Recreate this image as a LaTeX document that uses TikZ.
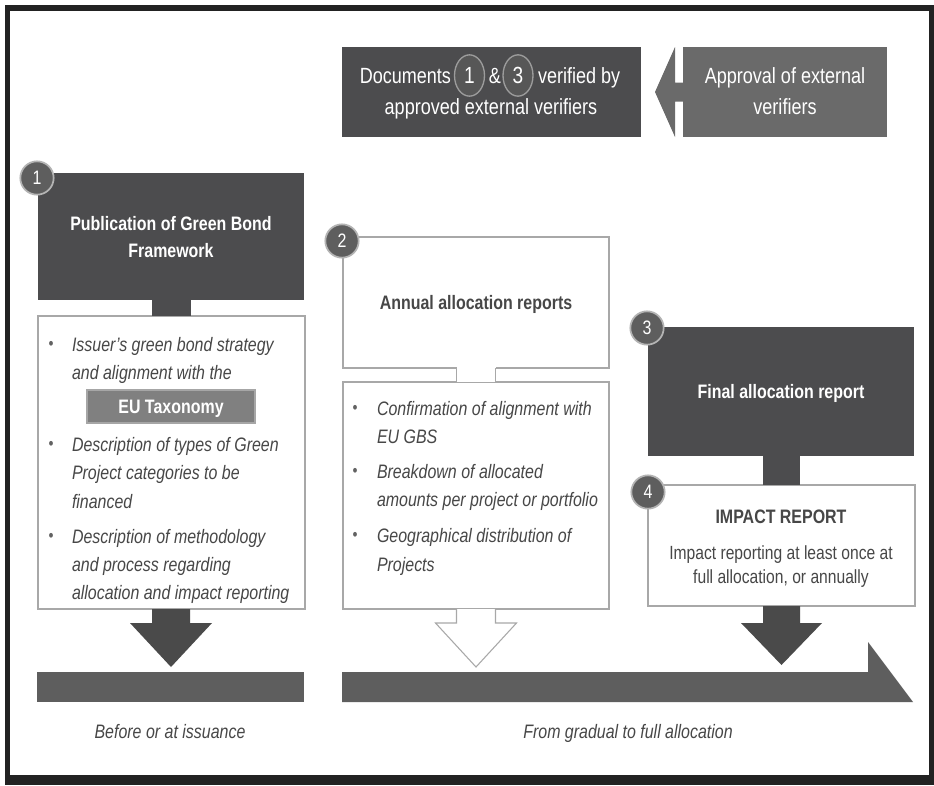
\documentclass[tikz,border=0pt]{standalone}
\usepackage{fontspec}
\setmainfont{Liberation Sans}[FakeStretch=0.82]
\usetikzlibrary{calc,fit,shapes.geometric}
\definecolor{framec}{HTML}{222222}
\definecolor{dk}{HTML}{4C4C4E}
\definecolor{apc}{HTML}{6A6A6A}
\definecolor{barc}{HTML}{5E5E5E}
\definecolor{arc}{HTML}{4A4A4A}
\definecolor{bord}{HTML}{A8A8A8}
\definecolor{txt}{HTML}{474747}
\definecolor{bulc}{HTML}{626262}
\definecolor{numf}{HTML}{5E5E5E}
\definecolor{numr}{HTML}{B4B4B4}
\definecolor{onumf}{HTML}{575757}
\definecolor{onumr}{HTML}{9C9C9C}
\definecolor{eub}{HTML}{808080}
\definecolor{eur}{HTML}{A6A6A6}
\begin{document}
\begin{tikzpicture}[x=0.75pt,y=-0.75pt,
  every node/.style={inner sep=0pt, outer sep=0pt},
  wbox/.style={fill=white, draw=bord, line width=0.8pt},
  num/.style={circle, fill=numf, draw=numr, line width=1.3pt, minimum size=25pt, text=white, font=\fontsize{14.6}{16}\selectfont},
  onum/.style={ellipse, fill=onumf, draw=onumr, line width=1pt, minimum width=22.5pt, minimum height=31pt, text=white, font=\fontsize{17.5}{19}\selectfont},
  ln/.style={text height=10.5pt, text depth=3.1pt, yshift=-1.2pt},
  ttl/.style={ln, text=white, font=\bfseries\fontsize{14.6}{17}\selectfont},
  gttl/.style={ln, text=txt, font=\bfseries\fontsize{14.6}{17}\selectfont},
  wt/.style={text=white, font=\fontsize{16.5}{18}\selectfont, text height=11.8pt, text depth=3.5pt, yshift=-1pt},
  it/.style={ln, anchor=west, text=txt, font=\itshape\fontsize{14.6}{17}\selectfont},
  bul/.style={text=bulc, font=\fontsize{13}{14}\selectfont},
  imt/.style={ln, text=txt, font=\fontsize{14.3}{17}\selectfont},
  lbl/.style={ln, text=txt, font=\itshape\fontsize{14.6}{17}\selectfont}
]
\useasboundingbox (0,0) rectangle (934,785);
\fill[framec] (5,5) rectangle (934,785);
\fill[white] (10,11) rectangle (929,775);

% ---------- top row ----------
\node[fit={(342,47) (641,137)}, fill=dk] (docs) {};
\node[fit={(683,47) (887,137)}, fill=apc] (appr) {};
\fill[apc] ($(appr.west)+(0,-9.5)$) -- ($(appr.west)+(-8,-9.5)$) -- ($(appr.west)+(-8,-45)$)
  -- ($(docs.east)+(14,0)$) -- ($(appr.west)+(-8,45)$) -- ($(appr.west)+(-8,9.5)$)
  -- ($(appr.west)+(0,9.5)$) -- cycle;
\node[wt] (ap1) at ($(appr.center)+(0,-15)$) {Approval of external};
\node[wt] (ap2) at ($(appr.center)+(0,16)$) {verifiers};
\node[wt, anchor=east] (dw1) at (451,77) {Documents};
\node[onum] (o1) at (469.5,75.5) {1};
\node[wt] (amp) at (495,77) {\&};
\node[onum] (o3) at (518,75.5) {3};
\node[wt, anchor=west] (dw2) at (538,77) {verified by};
\node[wt] (dw3) at (491,108) {approved external verifiers};

% ---------- left column ----------
\node[fit={(38,173) (304,300)}, fill=dk] (pub) {};
\node[ttl] (pub1) at ($(pub.center)+(0,-13)$) {Publication of Green Bond};
\node[ttl] (pub2) at ($(pub.center)+(0,14)$) {Framework};
\node[fit={(38,316) (305,609)}, wbox] (lst1) {};
\fill[dk] ($(pub.south)+(-19,0)$) rectangle ($(lst1.north)+(19,0)$);
\node[num] (n1) at (37,178) {1};

\node[bul] (b11) at (51,345) {•};
\node[it] (t11) at (72,345) {Issuer’s green bond strategy};
\node[it] (t12) at (72,373) {and alignment with the};
\node[fit={(87,390) (255,423)}, fill=eub, draw=eur, line width=0.8pt] (eu) {};
\node[ttl] (eut) at (eu.center) {EU Taxonomy};
\node[bul] (b12) at (51,445) {•};
\node[it] (t13) at (72,445) {Description of types of Green};
\node[it] (t14) at (72,473) {Project categories to be};
\node[it] (t15) at (72,502) {financed};
\node[bul] (b13) at (51,537) {•};
\node[it] (t16) at (72,537) {Description of methodology};
\node[it] (t17) at (72,565) {and process regarding};
\node[it] (t18) at (72,593) {allocation and impact reporting};

\node[fit={(37,672) (304,702)}, fill=barc] (bar1) {};
\fill[arc] ($(lst1.south)+(-19.5,0)$) -- ($(lst1.south)+(-19.5,14)$) -- ($(lst1.south)+(-41.5,14)$)
  -- ($(bar1.north)+(0.5,-5)$) -- ($(lst1.south)+(40.5,14)$) -- ($(lst1.south)+(18.5,14)$)
  -- ($(lst1.south)+(18.5,0)$) -- cycle;
\node[lbl] (lab1) at (170,732) {Before or at issuance};

% ---------- middle column ----------
\node[fit={(343,237) (609,368)}, wbox] (ann) {};
\node[gttl] (annt) at (ann.center) {Annual allocation reports};
\node[fit={(343,382) (609,609)}, wbox] (lst2) {};
\fill[white] ($(ann.south)+(-19.5,-1)$) rectangle ($(lst2.north)+(19.5,0)$);
\draw[bord, line width=0.8pt] ($(ann.south)+(-19.5,0)$) -- ($(lst2.north)+(-19.5,0)$)
  ($(ann.south)+(19.5,0)$) -- ($(lst2.north)+(19.5,0)$);
\node[num] (n2) at (342,241) {2};

\node[bul] (b21) at (355,409) {•};
\node[it] (t21) at (377,409) {Confirmation of alignment with};
\node[it] (t22) at (377,437) {EU GBS};
\node[bul] (b22) at (355,472) {•};
\node[it] (t23) at (377,472) {Breakdown of allocated};
\node[it] (t24) at (377,500) {amounts per project or portfolio};
\node[bul] (b23) at (355,536) {•};
\node[it] (t25) at (377,536) {Geographical distribution of};
\node[it] (t26) at (377,565) {Projects};

\draw[bord, fill=white, line width=0.8pt] ($(lst2.south)+(-19.5,0)$) -- ($(lst2.south)+(-19.5,14)$)
  -- ($(lst2.south)+(-40.5,14)$) -- ($(lst2.south)+(0,58)$) -- ($(lst2.south)+(40.5,14)$)
  -- ($(lst2.south)+(19.5,14)$) -- ($(lst2.south)+(19.5,0)$);

% ---------- right column ----------
\node[fit={(648,327) (914,456)}, fill=dk] (fin) {};
\node[ttl] (fint) at (fin.center) {Final allocation report};
\node[fit={(648,485) (915,606)}, wbox] (imp) {};
\fill[dk] ($(fin.south)+(-18,0)$) rectangle ($(imp.north)+(18,0)$);
\node[num] (n3) at (647,328) {3};
\node[num] (n4) at (648,492) {4};
\node[gttl] (impt) at (781,517) {IMPACT REPORT};
\node[imt] (impd1) at (781,553) {Impact reporting at least once at};
\node[imt] (impd2) at (781,577) {full allocation, or annually};

\fill[arc] ($(imp.south)+(-18.5,0)$) -- ($(imp.south)+(-18.5,17)$) -- ($(imp.south)+(-40.5,17)$)
  -- ($(imp.south)+(0,59)$) -- ($(imp.south)+(40.5,17)$) -- ($(imp.south)+(18.5,17)$)
  -- ($(imp.south)+(18.5,0)$) -- cycle;

% ---------- timeline ----------
\fill[barc] (342,672) -- (868,672) -- (868,642) -- (913,702) -- (342,702) -- cycle;
\node[lbl] (lab2) at (628,732) {From gradual to full allocation};
\end{tikzpicture}
\end{document}
